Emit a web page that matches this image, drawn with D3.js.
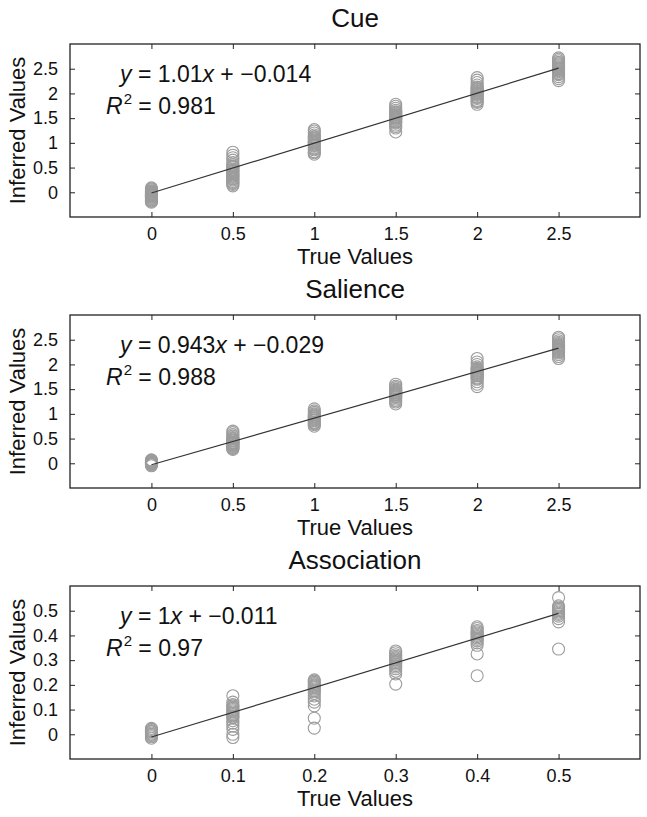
<!DOCTYPE html>
<html>
<head>
<meta charset="utf-8">
<script src="https://cdn.jsdelivr.net/npm/d3@7"></script>
<style>
  html, body { margin: 0; padding: 0; background: #fff; }
  svg { display: block; }
  text { font-family: "Liberation Sans", Arial, Helvetica, sans-serif; fill: #111; }
</style>
</head>
<body>
<svg id="chart" width="647" height="817"></svg>
<script>
// ---------------- DATA ----------------
const panelTitles = ["Cue", "Salience", "Association"];

const cueTrue = [0, 0.5, 1, 1.5, 2, 2.5];
const cueTicksY = [0, 0.5, 1, 1.5, 2, 2.5];
const cueTickLabels = ["0", "0.5", "1", "1.5", "2", "2.5"];
const cueInferred = [
  [-0.2,-0.18,-0.17,-0.15,-0.13,-0.12,-0.1,-0.09,-0.08,-0.07,-0.06,-0.05,-0.04,-0.03,-0.02,-0.01,0,0.01,0.02,0.03,0.05,0.07,0.09],
  [0.13,0.16,0.18,0.2,0.22,0.25,0.27,0.28,0.3,0.32,0.33,0.35,0.37,0.38,0.4,0.42,0.44,0.45,0.47,0.5,0.52,0.53,0.56,0.6,0.65,0.7,0.75,0.81],
  [0.77,0.8,0.82,0.86,0.88,0.9,0.93,0.95,0.96,0.98,1.0,1.01,1.02,1.04,1.06,1.08,1.1,1.12,1.13,1.16,1.2,1.24,1.27],
  [1.22,1.3,1.33,1.36,1.4,1.42,1.43,1.46,1.48,1.5,1.51,1.52,1.54,1.56,1.58,1.6,1.62,1.63,1.66,1.7,1.74,1.78],
  [1.78,1.82,1.84,1.86,1.9,1.92,1.93,1.96,1.98,2.0,2.01,2.02,2.04,2.06,2.08,2.1,2.12,2.13,2.17,2.22,2.27,2.32],
  [2.26,2.3,2.34,2.38,2.4,2.41,2.44,2.46,2.48,2.5,2.51,2.52,2.54,2.56,2.58,2.6,2.62,2.63,2.66,2.69,2.72]
];
const cueFit = { slope: 1.01, intercept: -0.014, r2: 0.981 };

const salTrue = [0, 0.5, 1, 1.5, 2, 2.5];
const salInferred = [
  [-0.05,-0.03,-0.02,-0.01,0,0,0.01,0.01,0.02,0.03,0.04,0.05,0.06,0.07],
  [0.28,0.3,0.31,0.32,0.34,0.35,0.36,0.38,0.39,0.4,0.41,0.42,0.43,0.45,0.46,0.47,0.49,0.5,0.52,0.55,0.58,0.62,0.65],
  [0.75,0.78,0.8,0.82,0.83,0.86,0.87,0.88,0.9,0.91,0.92,0.94,0.95,0.96,0.98,1.0,1.03,1.06,1.1],
  [1.2,1.24,1.27,1.3,1.33,1.35,1.36,1.38,1.39,1.4,1.42,1.43,1.44,1.46,1.48,1.5,1.53,1.56,1.6],
  [1.55,1.6,1.65,1.7,1.72,1.74,1.77,1.78,1.8,1.82,1.83,1.84,1.86,1.88,1.9,1.92,1.95,2.0,2.05,2.12],
  [2.12,2.16,2.2,2.23,2.25,2.26,2.28,2.3,2.31,2.32,2.34,2.36,2.37,2.38,2.4,2.42,2.45,2.48,2.52,2.55]
];
const salFit = { slope: 0.943, intercept: -0.029, r2: 0.988 };

const assocTrue = [0, 0.1, 0.2, 0.3, 0.4, 0.5];
const assocTicksY = [0, 0.1, 0.2, 0.3, 0.4, 0.5];
const assocTickLabels = ["0", "0.1", "0.2", "0.3", "0.4", "0.5"];
const assocInferred = [
  [-0.016,-0.01,-0.005,0,0,0.005,0.01,0.012,0.015,0.02,0.024],
  [-0.013,0.0,0.02,0.033,0.045,0.055,0.065,0.07,0.075,0.08,0.085,0.09,0.095,0.1,0.105,0.11,0.115,0.12,0.13,0.156],
  [0.025,0.065,0.115,0.13,0.142,0.155,0.165,0.172,0.178,0.183,0.188,0.192,0.196,0.2,0.205,0.21,0.215,0.22],
  [0.203,0.244,0.255,0.265,0.272,0.278,0.284,0.29,0.295,0.3,0.305,0.31,0.316,0.322,0.33,0.337],
  [0.237,0.325,0.36,0.37,0.378,0.384,0.39,0.395,0.4,0.405,0.41,0.415,0.42,0.428,0.435],
  [0.345,0.455,0.468,0.478,0.485,0.49,0.495,0.5,0.505,0.51,0.515,0.52,0.553]
];
const assocFit = { slope: 1, intercept: -0.011, r2: 0.97 };

const xLabel = "True Values";
const yLabel = "Inferred Values";

// ---------------- LAYOUT ----------------
const svg = d3.select("#chart");
const boxLeft = 70, boxRight = 640, boxH = 173;
const panelTops = [44, 315, 586];

const panels = [
  { title: panelTitles[0], trueVals: cueTrue, inferred: cueInferred, fit: cueFit,
    domain: [-0.5, 3], ticks: cueTicksY, labels: cueTickLabels, slopeText: "1.01" },
  { title: panelTitles[1], trueVals: salTrue, inferred: salInferred, fit: salFit,
    domain: [-0.5, 3], ticks: cueTicksY, labels: cueTickLabels, slopeText: "0.943" },
  { title: panelTitles[2], trueVals: assocTrue, inferred: assocInferred, fit: assocFit,
    domain: [-0.1, 0.6], ticks: assocTicksY, labels: assocTickLabels, slopeText: "1" }
];

function fmtIntercept(v) {
  const s = Math.abs(v).toString();
  return (v < 0 ? "\u2212" : "") + s;
}

panels.forEach((p, i) => {
  const top = panelTops[i];
  const x = d3.scaleLinear().domain(p.domain).range([boxLeft, boxRight]);
  const y = d3.scaleLinear().domain(p.domain).range([top + boxH, top]);
  const g = svg.append("g");
  const labelMap = new Map(p.ticks.map((t, k) => [t, p.labels[k]]));

  // axes with inward ticks
  const ax = [
    d3.axisBottom(x).tickValues(p.ticks).tickSize(-5).tickPadding(10).tickFormat(d => labelMap.get(d)),
    d3.axisTop(x).tickValues(p.ticks).tickSize(-5).tickFormat(""),
    d3.axisLeft(y).tickValues(p.ticks).tickSize(-5).tickPadding(12).tickFormat(d => labelMap.get(d)),
    d3.axisRight(y).tickValues(p.ticks).tickSize(-5).tickFormat("")
  ];
  const trans = [
    `translate(0,${top + boxH})`, `translate(0,${top})`,
    `translate(${boxLeft},0)`, `translate(${boxRight},0)`
  ];
  ax.forEach((a, k) => {
    const ag = g.append("g").attr("transform", trans[k]).call(a);
    ag.select(".domain").remove();
    ag.selectAll(".tick line").attr("stroke", "#222").attr("stroke-width", 1);
    ag.selectAll(".tick text").attr("font-size", 18).attr("fill", "#111")
      .style("font-family", '"Liberation Sans", Arial, sans-serif');
  });

  // box
  g.append("rect").attr("x", boxLeft).attr("y", top)
    .attr("width", boxRight - boxLeft).attr("height", boxH)
    .attr("fill", "none").attr("stroke", "#222").attr("stroke-width", 1.3);

  // points
  const pts = [];
  p.trueVals.forEach((tv, k) => p.inferred[k].forEach(v => pts.push([tv, v])));
  g.append("g").selectAll("circle").data(pts).join("circle")
    .attr("cx", d => x(d[0])).attr("cy", d => y(d[1])).attr("r", 6)
    .attr("fill", "none").attr("stroke", "#9c9c9c").attr("stroke-width", 1.1);

  // regression line
  const x0 = p.trueVals[0], x1 = p.trueVals[p.trueVals.length - 1];
  g.append("line")
    .attr("x1", x(x0)).attr("y1", y(p.fit.slope * x0 + p.fit.intercept))
    .attr("x2", x(x1)).attr("y2", y(p.fit.slope * x1 + p.fit.intercept))
    .attr("stroke", "#333").attr("stroke-width", 1.2);

  // title
  g.append("text").attr("x", (boxLeft + boxRight) / 2).attr("y", top - 17)
    .attr("text-anchor", "middle").attr("font-size", 26).text(p.title);

  // x label
  g.append("text").attr("x", (boxLeft + boxRight) / 2).attr("y", top + boxH + 47)
    .attr("text-anchor", "middle").attr("font-size", 22).text(xLabel);

  // y label
  g.append("text")
    .attr("transform", `translate(25,${top + boxH / 2}) rotate(-90)`)
    .attr("text-anchor", "middle").attr("font-size", 22).text(yLabel);

  // equation
  const eq = g.append("text").attr("x", boxLeft + 50).attr("y", top + 38).attr("font-size", 23);
  eq.append("tspan").attr("font-style", "italic").text("y");
  eq.append("tspan").text(" = " + p.slopeText);
  eq.append("tspan").attr("font-style", "italic").text("x");
  eq.append("tspan").text(" + " + fmtIntercept(p.fit.intercept));

  const r2 = g.append("text").attr("x", boxLeft + 36).attr("y", top + 70).attr("font-size", 23);
  r2.append("tspan").attr("font-style", "italic").text("R");
  r2.append("tspan").attr("font-size", 15).attr("dy", -10).attr("dx", 1).text("2");
  r2.append("tspan").attr("dy", 10).text(" = " + p.fit.r2);
});
</script>
</body>
</html>
